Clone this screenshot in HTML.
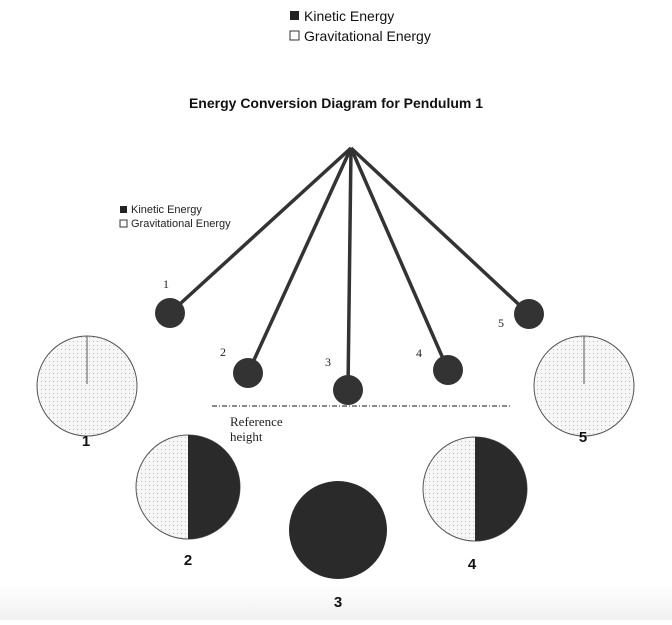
<!DOCTYPE html>
<html><head><style>body{margin:0;width:672px;height:620px;overflow:hidden;background:#fff}</style></head>
<body>
<svg width="672" height="620" xmlns="http://www.w3.org/2000/svg">
<defs>
<linearGradient id="bg" x1="0" y1="0" x2="0" y2="1"><stop offset="0" stop-color="#fff"/><stop offset="1" stop-color="#f0f0f0"/></linearGradient>
<pattern id="dots" width="4" height="4" patternUnits="userSpaceOnUse"><rect width="4" height="4" fill="#f7f7f7"/><rect x="1" y="1" width="1" height="1" fill="#bbb"/></pattern>
</defs>
<rect x="0" y="585" width="672" height="35" fill="url(#bg)"/>
<g font-family="Liberation Sans, sans-serif" font-size="14" fill="#111">
<rect x="290" y="11" width="9" height="9" fill="#222"/>
<text x="304" y="21">Kinetic Energy</text>
<rect x="290" y="31" width="9" height="9" fill="#fff" stroke="#333"/>
<text x="304" y="41">Gravitational Energy</text>
<text x="336" y="108" text-anchor="middle" font-weight="bold" font-size="14">Energy Conversion Diagram for Pendulum 1</text>
<g font-size="11" fill="#222">
<rect x="120" y="206" width="7" height="7" fill="#222"/><text x="131" y="213">Kinetic Energy</text>
<rect x="120" y="220" width="7" height="7" fill="#fff" stroke="#333"/><text x="131" y="227">Gravitational Energy</text>
</g>
</g>
<g stroke="#333" stroke-width="3.5">
<line x1="351" y1="148" x2="170" y2="313"/>
<line x1="351" y1="148" x2="248" y2="373"/>
<line x1="351" y1="148" x2="348" y2="390"/>
<line x1="351" y1="148" x2="448" y2="370"/>
<line x1="351" y1="148" x2="529" y2="314"/>
</g>
<g fill="#333">
<circle cx="170" cy="313" r="15"/><circle cx="248" cy="373" r="15"/><circle cx="348" cy="390" r="15"/><circle cx="448" cy="370" r="15"/><circle cx="529" cy="314" r="15"/>
</g>
<g font-family="Liberation Serif, serif" font-size="12" fill="#222">
<text x="163" y="288">1</text><text x="220" y="356">2</text><text x="325" y="366">3</text><text x="416" y="357">4</text><text x="498" y="327">5</text>
<text x="230" y="426" font-size="13">Reference</text><text x="230" y="441" font-size="13">height</text>
</g>
<line x1="212" y1="406" x2="512" y2="406" stroke="#444" stroke-width="1.2" stroke-dasharray="5,2,1,2"/>
<circle cx="87" cy="386" r="50" fill="url(#dots)" stroke="#555"/>
<line x1="87" y1="336" x2="87" y2="384" stroke="#555"/>
<circle cx="584" cy="386" r="50" fill="url(#dots)" stroke="#555"/>
<line x1="584" y1="336" x2="584" y2="384" stroke="#555"/>
<circle cx="188" cy="487" r="52" fill="url(#dots)" stroke="#555"/>
<path d="M188 435 A52 52 0 0 1 188 539 Z" fill="#2a2a2a"/>
<circle cx="475" cy="489" r="52" fill="url(#dots)" stroke="#555"/>
<path d="M475 437 A52 52 0 0 1 475 541 Z" fill="#2a2a2a"/>
<circle cx="338" cy="530" r="49" fill="#2a2a2a"/>
<g font-family="Liberation Sans, sans-serif" font-weight="bold" font-size="15" fill="#111" text-anchor="middle">
<text x="86" y="446">1</text><text x="188" y="565">2</text><text x="338" y="607">3</text><text x="472" y="569">4</text><text x="583" y="442">5</text>
</g>
</svg>
</body></html>
